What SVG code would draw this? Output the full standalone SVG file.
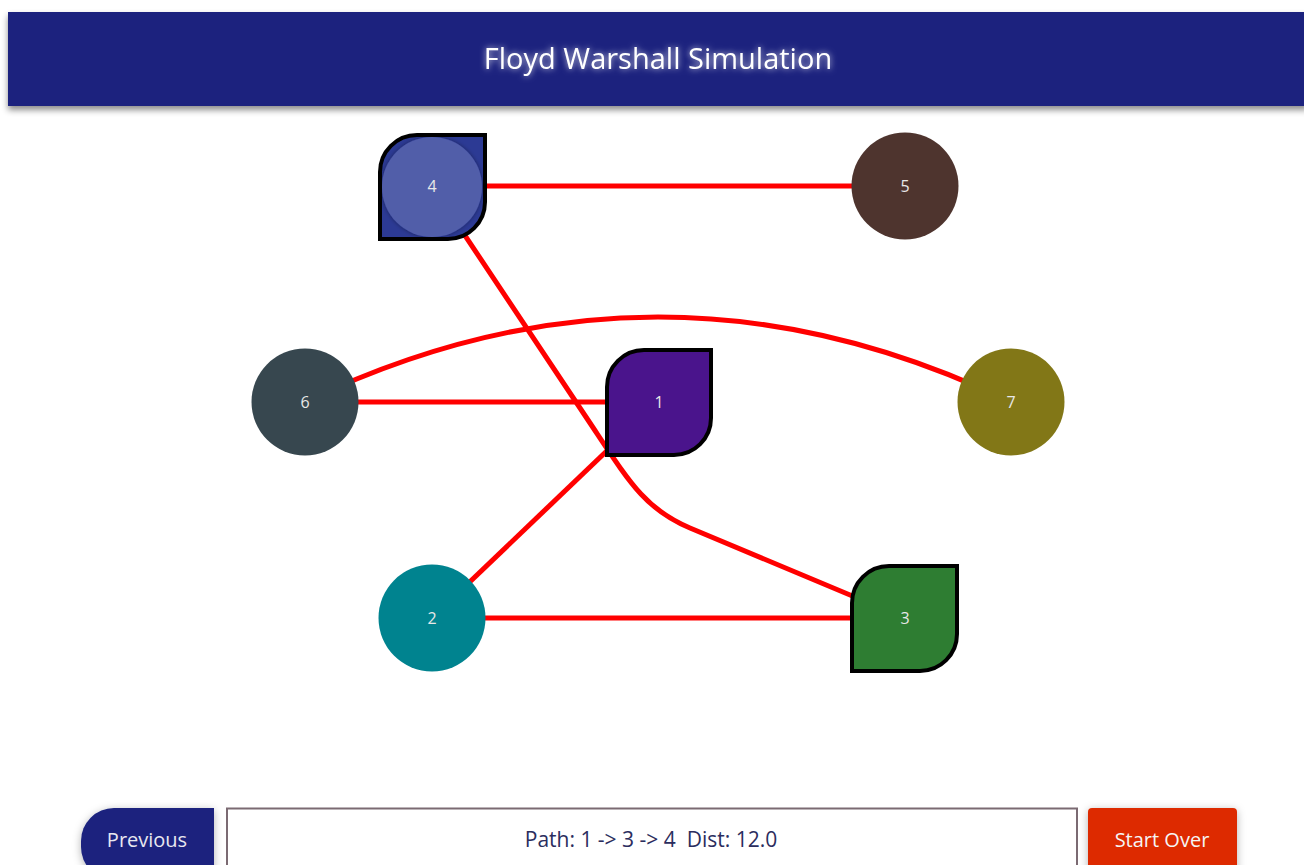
<svg xmlns="http://www.w3.org/2000/svg" width="1304" height="865" viewBox="0 0 1304 865">
<defs>
<filter id="hdrShadow" x="-5%" y="-20%" width="110%" height="160%">
<feDropShadow dx="0" dy="4" stdDeviation="3" flood-color="#000" flood-opacity="0.45"/>
</filter>
<filter id="glow" x="-10%" y="-50%" width="120%" height="200%">
<feGaussianBlur in="SourceAlpha" stdDeviation="3" result="b"/>
<feFlood flood-color="#ffffff" flood-opacity="0.8"/>
<feComposite in2="b" operator="in" result="g"/>
<feMerge><feMergeNode in="g"/><feMergeNode in="SourceGraphic"/></feMerge>
</filter>
<filter id="btnShadow" x="-20%" y="-40%" width="140%" height="180%">
<feDropShadow dx="0" dy="2" stdDeviation="4" flood-color="#000" flood-opacity="0.3"/>
</filter>
<filter id="ring" x="-20%" y="-20%" width="140%" height="140%">
<feDropShadow dx="0" dy="0" stdDeviation="2" flood-color="#000" flood-opacity="0.45"/>
</filter>
</defs>
<style>
.edge{fill:none;stroke:#ff0000;stroke-width:5}
.leaf{stroke:#000;stroke-width:4}
.lbl{font-family:"Open Sans","Noto Sans",sans-serif;font-size:16px;fill:#e8e8e8;text-anchor:middle}
.btn{font-family:"Open Sans","Noto Sans",sans-serif;font-size:20px;text-anchor:middle}
.status{font-family:"Open Sans","Noto Sans",sans-serif;font-size:21px;text-anchor:middle;fill:#2b2d5e;white-space:pre}
</style>
<rect width="1304" height="865" fill="#ffffff"/>
<g id="header">
<rect x="8" y="12" width="1300" height="94" fill="#1a237e" filter="url(#hdrShadow)"/>
<text x="658" y="69" font-family="'Open Sans','Noto Sans',sans-serif" font-size="29" fill="#ffffff" text-anchor="middle" filter="url(#glow)">Floyd Warshall Simulation</text>
</g>
<g id="edges">
<line class="edge" x1="432" y1="186" x2="905" y2="186"/>
<path class="edge" d="M432,186 L590,423 C630,483 645,509 690,528 L905,618"/>
<path class="edge" d="M305,402 Q658,232 1011,402"/>
<line class="edge" x1="305" y1="402" x2="658" y2="402"/>
<line class="edge" x1="432" y1="618" x2="658" y2="402"/>
<line class="edge" x1="432" y1="618" x2="905" y2="618"/>
</g>
<g id="node-4">
<path class="leaf" d="M417,135 H485 V202 A37,37 0 0 1 448,239 H380 V172 A37,37 0 0 1 417,135 Z" fill="#2c3a94"/>
<circle cx="432" cy="187" r="50" fill="#5462ae" fill-opacity="0.9" filter="url(#ring)"/>
<text class="lbl" x="432" y="192">4</text>
</g>
<g id="node-5">
<circle cx="905" cy="186" r="53.5" fill="#4e342e"/>
<text class="lbl" x="905" y="192">5</text>
</g>
<g id="node-6">
<circle cx="305" cy="402" r="53.5" fill="#37474f"/>
<text class="lbl" x="305" y="408">6</text>
</g>
<g id="node-1">
<path class="leaf" d="M644,350 H711 V418 A37,37 0 0 1 674,455 H607 V387 A37,37 0 0 1 644,350 Z" fill="#4a148c"/>
<text class="lbl" x="659" y="408">1</text>
</g>
<g id="node-7">
<circle cx="1011" cy="402" r="53.5" fill="#827717"/>
<text class="lbl" x="1011" y="408">7</text>
</g>
<g id="node-2">
<circle cx="432" cy="618" r="53.5" fill="#00838f"/>
<text class="lbl" x="432" y="624">2</text>
</g>
<g id="node-3">
<path class="leaf" d="M889,566 H957 V634 A37,37 0 0 1 920,671 H852 V603 A37,37 0 0 1 889,566 Z" fill="#2e7d32"/>
<text class="lbl" x="905" y="624">3</text>
</g>
<g id="controls">
<path d="M114,808 H214 V880 H114 A33,33 0 0 1 81,847 V841 A33,33 0 0 1 114,808 Z" fill="#1a237e" filter="url(#btnShadow)"/>
<text class="btn" x="147" y="847" fill="#e8e8f0">Previous</text>
<rect x="227" y="808.5" width="850" height="70" fill="#ffffff" stroke="#7b6a72" stroke-width="2"/>
<text class="status" x="651" y="847" xml:space="preserve">Path: 1 -&gt; 3 -&gt; 4  Dist: 12.0</text>
<rect x="1088" y="808" width="149" height="70" rx="4" fill="#dd2c00" filter="url(#btnShadow)"/>
<text class="btn" x="1162" y="847" fill="#f5f5f5">Start Over</text>
</g>
</svg>
